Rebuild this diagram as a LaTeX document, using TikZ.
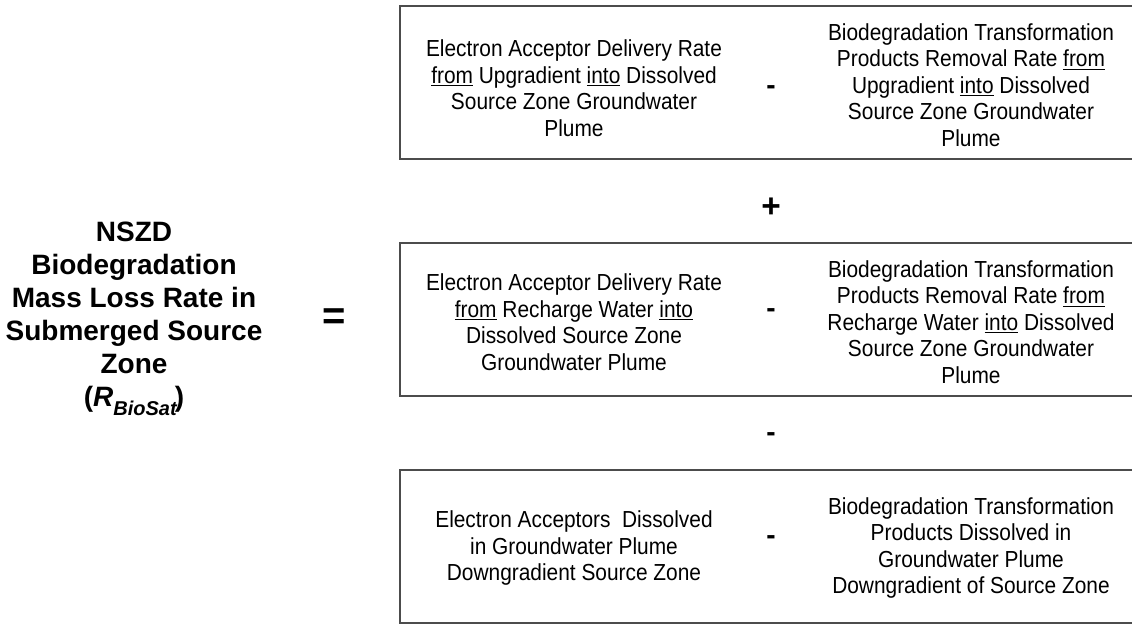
\documentclass[tikz,border=0pt]{standalone}
\usepackage{fontspec}
\setmainfont{Liberation Sans}
\newfontfamily\narrowfont[FakeStretch=0.9]{Liberation Sans}
\usetikzlibrary{positioning}

\begin{document}
\begin{tikzpicture}[
    x=0.75pt, y=-0.75pt,
    term/.style={font=\narrowfont\fontsize{17.4}{19.9}\selectfont, align=center},
    total/.style={font=\fontsize{21}{24.8}\selectfont\bfseries, align=center},
    sign/.style={font=\fontsize{21}{21}\selectfont\bfseries, inner sep=0pt},
    frame/.style={draw=black!70, line width=1pt}
  ]
  \useasboundingbox (0,0) rectangle (1132,624);
  \clip (0,0) rectangle (1132,624);

  % frames of the three rate groups
  \draw[frame] (400,6)   rectangle (1140,159);
  \draw[frame] (400,243) rectangle (1140,396);
  \draw[frame] (400,470) rectangle (1140,623);

  % left-hand side
  \node[total] (nszd) at (134,319) {NSZD\\Biodegradation\\Mass Loss Rate in\\Submerged Source\\Zone\\(\textit{R}\raisebox{-0.6ex}{\fontsize{15}{15}\selectfont\textit{BioSat}}\kern-2pt)};
  \node[sign, font=\fontsize{30}{30}\selectfont\bfseries] (equals) at (334,319) {=};

  % upgradient group
  \node[term] (upIn)  at (574,88) {Electron Acceptor Delivery Rate\\\underline{from} Upgradient \underline{into} Dissolved\\Source Zone Groundwater\\Plume};
  \node[sign] (upMinus) at (771,90) {-};
  \node[term] (upOut) at (971,85) {Biodegradation Transformation\\Products Removal Rate \underline{from}\\Upgradient \underline{into} Dissolved\\Source Zone Groundwater\\Plume};

  \node[sign, font=\fontsize{25}{25}\selectfont\bfseries] (plus) at (771,208) {+};

  % recharge group
  \node[term] (rchIn)  at (574,322) {Electron Acceptor Delivery Rate\\\underline{from} Recharge Water \underline{into}\\Dissolved Source Zone\\Groundwater Plume};
  \node[sign] (rchMinus) at (771,313) {-};
  \node[term] (rchOut) at (971,322) {Biodegradation Transformation\\Products Removal Rate \underline{from}\\Recharge Water \underline{into} Dissolved\\Source Zone Groundwater\\Plume};

  \node[sign] (minus) at (771,437) {-};

  % downgradient group
  \node[term] (dnIn)  at (574,548) {Electron Acceptors\ \ Dissolved\\in Groundwater Plume\\Downgradient Source Zone};
  \node[sign] (dnMinus) at (771,540) {-};
  \node[term] (dnOut) at (971,548) {Biodegradation Transformation\\Products Dissolved in\\Groundwater Plume\\Downgradient of Source Zone};
\end{tikzpicture}
\end{document}
